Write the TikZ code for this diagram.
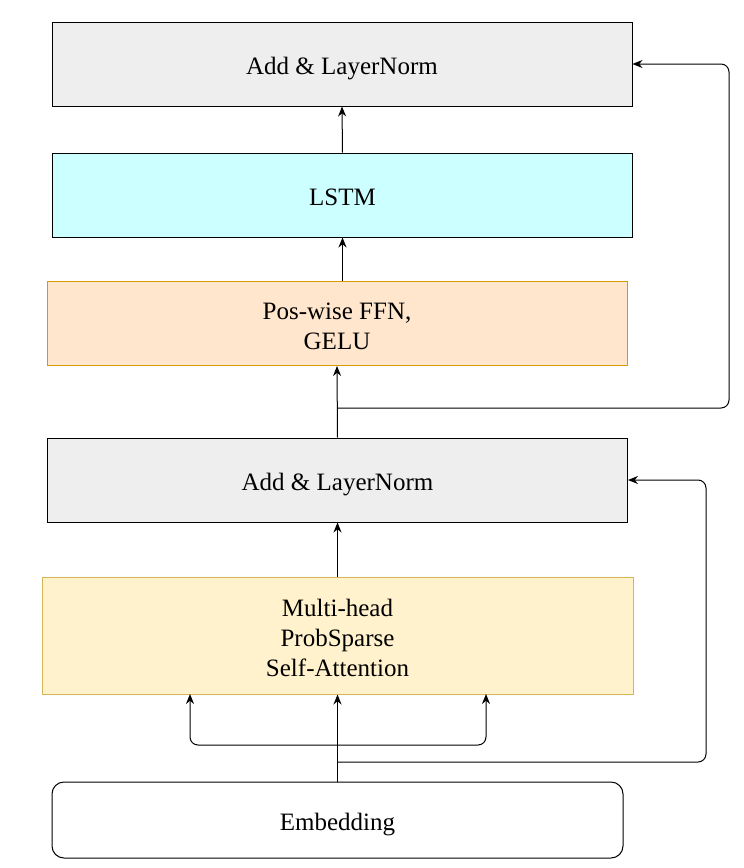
\documentclass[tikz,border=0pt]{standalone}
\usepackage{fontspec}
\setmainfont{Liberation Serif}
\usetikzlibrary{positioning, arrows.meta}
\definecolor{normgray}{HTML}{EEEEEE}
\definecolor{lstmcyan}{HTML}{CCFFFF}
\definecolor{ffnfill}{HTML}{FFE6CC}
\definecolor{ffnline}{HTML}{D79B00}
\definecolor{attfill}{HTML}{FFF2CC}
\definecolor{attline}{HTML}{D6B656}
\begin{document}
\begin{tikzpicture}[x=0.5pt, y=-0.5pt,
    block/.style={draw, line width=0.5pt, minimum width=290pt, minimum height=42pt, inner sep=0pt, align=center, font=\fontsize{12.5}{15}\selectfont},
    oneline/.style={text height=10pt, text depth=0pt},
    arr/.style={-{Stealth[length=5pt, width=4pt]}, line width=0.5pt, rounded corners=4pt}]
    \useasboundingbox (0,0) rectangle (744,868);
    \node [block, oneline, fill=normgray] (norm2) at (342,64) {Add \& LayerNorm};
    \node [block, oneline, fill=lstmcyan] (lstm) at (342.5,195) {LSTM};
    \node [block, fill=ffnfill, draw=ffnline] (ffn) at (337,323.5) {\rule{0pt}{11.5pt}Pos-wise FFN,\\GELU};
    \node [block, oneline, fill=normgray] (norm1) at (337.5,480) {Add \& LayerNorm};
    \node [block, fill=attfill, draw=attline, minimum width=295.5pt, minimum height=58.5pt] (att) at (337.5,635.5) {\rule{0pt}{11pt}Multi-head\\ProbSparse\\Self-Attention};
    \node [block, oneline, rounded corners=6pt, minimum width=285.5pt, minimum height=38pt] (emb) at (337.5,820) {Embedding};
    % split points and residual corners
    \coordinate (split) at (337.5,745);
    \coordinate (attL) at (190,694);
    \coordinate (attR) at (486,694);
    \coordinate (res1) at (337.5,762);
    \coordinate (r1) at (706,762);
    \coordinate (res2) at (337.5,408);
    \coordinate (r2) at (729,408);
    \draw [arr] (emb.north) -- (att.south);
    \draw [arr] (split) -| (attL);
    \draw [arr] (split) -| (attR);
    \draw [arr] (att.north) -- (norm1.south);
    \draw [arr] (res1) -- (r1) |- (norm1.east);
    \draw [arr] (norm1.north) -- (ffn.south);
    \draw [arr] (res2) -- (r2) |- (norm2.east);
    \draw [arr] (ffn.north -| lstm.south) -- (lstm.south);
    \draw [arr] (lstm.north) -- (norm2.south);
\end{tikzpicture}
\end{document}
